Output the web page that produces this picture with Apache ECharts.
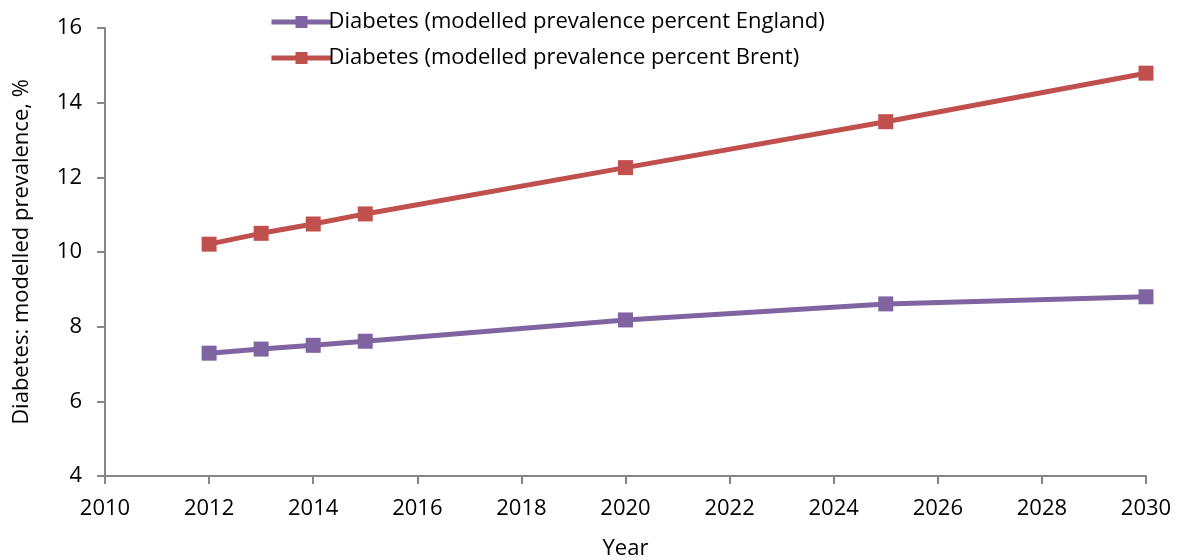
<!DOCTYPE html>
<html>
<head>
<meta charset="utf-8">
<script src="https://cdn.jsdelivr.net/npm/echarts@6/dist/echarts.min.js"></script>
<style>
  html, body { margin: 0; padding: 0; background: #fff; }
  #chart { width: 1180px; height: 560px; }
</style>
</head>
<body>
<div id="chart"></div>
<script>
const years = [2012, 2013, 2014, 2015, 2020, 2025, 2030];
const england = [7.29, 7.40, 7.50, 7.61, 8.18, 8.61, 8.80];
const brent = [10.21, 10.50, 10.75, 11.02, 12.26, 13.49, 14.79];
const seriesNames = [
    'Diabetes (modelled prevalence percent England)',
    'Diabetes (modelled prevalence percent Brent)'
];

const FONT = 'Open Sans';
const FS = 22;
const chart = echarts.init(document.getElementById('chart'));

const pairs = (vals) => years.map((y, i) => [y, vals[i]]);

const lineSeries = (name, vals, color) => ({
    name: name,
    type: 'line',
    data: pairs(vals),
    symbol: 'rect',
    symbolSize: 15,
    lineStyle: { color: color, width: 5 },
    itemStyle: { color: color },
    animation: false
});

chart.setOption({
    backgroundColor: '#fff',
    textStyle: { fontFamily: FONT },
    grid: { left: 105, right: 34, top: 28, bottom: 84, containLabel: false, outerBoundsMode: 'none' },
    legend: {
        orient: 'vertical',
        left: 264,
        top: 6,
        itemWidth: 60,
        itemHeight: 15,
        itemGap: 14,
        lineStyle: { width: 5 },
        textStyle: { fontSize: FS, color: '#000', fontFamily: FONT, padding: [0, 0, 0, -8] },
        data: seriesNames
    },
    xAxis: {
        type: 'value',
        min: 2010,
        max: 2030,
        interval: 2,
        name: 'Year',
        nameLocation: 'middle',
        nameGap: 62,
        nameTextStyle: { fontSize: FS, color: '#000' },
        axisLine: { lineStyle: { color: '#868686', width: 2 } },
        axisTick: { show: true, length: 8, lineStyle: { color: '#868686', width: 2 } },
        axisLabel: { fontSize: FS, color: '#000', margin: 22, formatter: (v) => String(v) },
        splitLine: { show: false }
    },
    yAxis: {
        type: 'value',
        min: 4,
        max: 16,
        interval: 2,
        name: 'Diabetes: modelled prevalence, %',
        nameLocation: 'middle',
        nameGap: 72,
        nameTextStyle: { fontSize: FS, color: '#000' },
        axisLine: { show: true, lineStyle: { color: '#868686', width: 2 } },
        axisTick: { show: true, length: 8, lineStyle: { color: '#868686', width: 2 } },
        axisLabel: { fontSize: FS, color: '#000', margin: 23 },
        splitLine: { show: false }
    },
    series: [
        lineSeries(seriesNames[0], england, '#8064A2'),
        lineSeries(seriesNames[1], brent, '#C0504D')
    ]
});
</script>
</body>
</html>
